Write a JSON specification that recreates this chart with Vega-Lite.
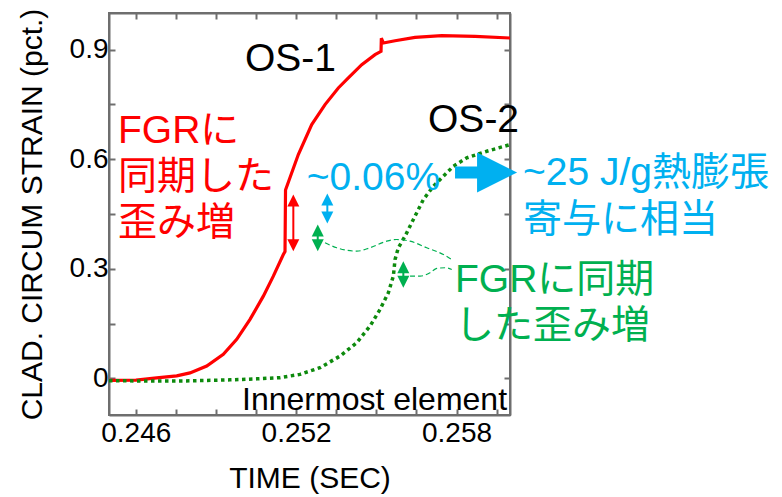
{
  "$schema": "https://vega.github.io/schema/vega-lite/v6.json",
  "width": 401,
  "height": 402,
  "autosize": {"type": "none"},
  "padding": {"left": 109, "top": 13, "right": 272, "bottom": 82},
  "background": "white",
  "resolve": {"axis": {"x": "independent", "y": "independent"}},
  "config": {
    "view": {"stroke": "#6e6e6e", "strokeWidth": 2},
    "font": "Liberation Sans",
    "axis": {
      "labelFont": "Liberation Sans",
      "titleFont": "Liberation Sans",
      "labelFontSize": 28,
      "titleFontSize": 30,
      "labelColor": "#000000",
      "titleColor": "#000000",
      "titleFontWeight": "normal",
      "domainColor": "#6e6e6e",
      "domainWidth": 2,
      "tickColor": "#6e6e6e",
      "tickWidth": 2,
      "tickSize": -6,
      "grid": false,
      "labelOverlap": false,
      "labelFlush": false
    }
  },
  "datasets": {
    "os1": [
      {"t": 0.24500, "s": -0.005},
      {"t": 0.24601, "s": -0.0046},
      {"t": 0.246785, "s": 0.0016},
      {"t": 0.247533, "s": 0.0071},
      {"t": 0.248030, "s": 0.0153},
      {"t": 0.248655, "s": 0.0339},
      {"t": 0.249276, "s": 0.0659},
      {"t": 0.249777, "s": 0.1069},
      {"t": 0.250275, "s": 0.1616},
      {"t": 0.250773, "s": 0.2252},
      {"t": 0.251147, "s": 0.2799},
      {"t": 0.251521, "s": 0.3392},
      {"t": 0.251584, "s": 0.3474},
      {"t": 0.251603, "s": 0.5156},
      {"t": 0.252082, "s": 0.6126},
      {"t": 0.252583, "s": 0.6946},
      {"t": 0.253081, "s": 0.7493},
      {"t": 0.253578, "s": 0.7949},
      {"t": 0.253953, "s": 0.8223},
      {"t": 0.254454, "s": 0.8586},
      {"t": 0.254951, "s": 0.8860},
      {"t": 0.255176, "s": 0.8950},
      {"t": 0.255187, "s": 0.9311},
      {"t": 0.255262, "s": 0.9180},
      {"t": 0.255700, "s": 0.9242},
      {"t": 0.256448, "s": 0.9333},
      {"t": 0.257447, "s": 0.9379},
      {"t": 0.258693, "s": 0.9360},
      {"t": 0.260002, "s": 0.9316}
    ],
    "os2": [
      {"t": 0.24500, "s": -0.006},
      {"t": 0.246534, "s": -0.0071},
      {"t": 0.248030, "s": -0.0066},
      {"t": 0.249527, "s": -0.0038},
      {"t": 0.250526, "s": -0.0011},
      {"t": 0.251397, "s": 0.0022},
      {"t": 0.252146, "s": 0.0112},
      {"t": 0.252894, "s": 0.0295},
      {"t": 0.253642, "s": 0.0612},
      {"t": 0.254267, "s": 0.0979},
      {"t": 0.254764, "s": 0.1432},
      {"t": 0.255138, "s": 0.1889},
      {"t": 0.255449, "s": 0.2345},
      {"t": 0.255636, "s": 0.2799},
      {"t": 0.255700, "s": 0.3256},
      {"t": 0.255823, "s": 0.3576},
      {"t": 0.256074, "s": 0.3893},
      {"t": 0.256384, "s": 0.4349},
      {"t": 0.256759, "s": 0.4896},
      {"t": 0.257133, "s": 0.5259},
      {"t": 0.257507, "s": 0.5533},
      {"t": 0.257881, "s": 0.5806},
      {"t": 0.258382, "s": 0.6036},
      {"t": 0.259130, "s": 0.6216},
      {"t": 0.260002, "s": 0.6399}
    ],
    "guides": [
      {"id": "a", "t": 0.253081, "s": 0.3712},
      {"id": "a", "t": 0.253518, "s": 0.3576},
      {"id": "a", "t": 0.254267, "s": 0.3483},
      {"id": "a", "t": 0.254764, "s": 0.3576},
      {"id": "a", "t": 0.255389, "s": 0.3756},
      {"id": "a", "t": 0.255763, "s": 0.3802},
      {"id": "a", "t": 0.256261, "s": 0.3756},
      {"id": "a", "t": 0.256886, "s": 0.3576},
      {"id": "a", "t": 0.257507, "s": 0.3392},
      {"id": "a", "t": 0.257821, "s": 0.3256},
      {"id": "b", "t": 0.256261, "s": 0.2799},
      {"id": "b", "t": 0.256635, "s": 0.2799},
      {"id": "b", "t": 0.257009, "s": 0.2892},
      {"id": "b", "t": 0.257260, "s": 0.3010},
      {"id": "b", "t": 0.257570, "s": 0.3029},
      {"id": "b", "t": 0.257821, "s": 0.2982}
    ],
    "arrows": [
      {"kind": "OS-1 FGR", "t": 0.251895, "top": 0.4869, "bottom": 0.3647},
      {"kind": "thermal", "t": 0.253167, "top": 0.4896, "bottom": 0.4404},
      {"kind": "OS-2 FGR", "t": 0.252808, "top": 0.4048, "bottom": 0.3647},
      {"kind": "OS-2 FGR", "t": 0.256010, "top": 0.3045, "bottom": 0.2646}
    ],
    "heads": [
      {"kind": "OS-1 FGR", "t": 0.251895, "s": 0.4869, "dir": "up"},
      {"kind": "OS-1 FGR", "t": 0.251895, "s": 0.3647, "dir": "down"},
      {"kind": "thermal", "t": 0.253167, "s": 0.4896, "dir": "up"},
      {"kind": "thermal", "t": 0.253167, "s": 0.4404, "dir": "down"},
      {"kind": "OS-2 FGR", "t": 0.252808, "s": 0.4048, "dir": "up"},
      {"kind": "OS-2 FGR", "t": 0.252808, "s": 0.3647, "dir": "down"},
      {"kind": "OS-2 FGR", "t": 0.256010, "s": 0.3045, "dir": "up"},
      {"kind": "OS-2 FGR", "t": 0.256010, "s": 0.2646, "dir": "down"}
    ],
    "bigArrow": [
      {"t": 0.257944, "t2": 0.259254, "s": 0.5634}
    ],
    "bigHead": [
      {"t": 0.259516, "s": 0.5634}
    ],
    "labels": [
      {"kind": "OS", "t": 0.250088, "s": 0.8403, "text": "OS-1"},
      {"kind": "OS", "t": 0.256934, "s": 0.6755, "text": "OS-2"},
      {"kind": "OS-1 FGR", "t": 0.245337, "s": 0.6446, "text": "FGRに"},
      {"kind": "OS-1 FGR", "t": 0.245337, "s": 0.5197, "text": "同期した"},
      {"kind": "OS-1 FGR", "t": 0.245337, "s": 0.3912, "text": "歪み増"},
      {"kind": "thermal", "t": 0.252396, "s": 0.5169, "text": "~0.06%"},
      {"kind": "thermal", "t": 0.260488, "s": 0.5306, "text": "~25 J/g熱膨張"},
      {"kind": "thermal", "t": 0.260488, "s": 0.4021, "text": "寄与に相当"},
      {"kind": "OS-2 FGR", "t": 0.257944, "s": 0.2354, "text": "FGRに同期"},
      {"kind": "OS-2 FGR", "t": 0.257944, "s": 0.1096, "text": "した歪み増"}
    ],
    "note": [
      {"t": 0.25989, "s": -0.0864, "text": "Innermost element"}
    ]
  },
  "layer": [
    {
      "data": {"name": "os1"},
      "mark": {"type": "line", "color": "#ff0000", "strokeWidth": 3.2, "clip": true},
      "encoding": {
        "x": {
          "field": "t", "type": "quantitative",
          "scale": {"domain": [0.245, 0.26], "nice": false, "zero": false},
          "axis": {
            "orient": "bottom",
            "title": "TIME (SEC)",
            "values": [0.246, 0.2475, 0.249, 0.2505, 0.252, 0.2535, 0.255, 0.2565, 0.258, 0.2595],
            "labelExpr": "(round(datum.value*2000) % 12 == 0) ? format(datum.value, '.3f') : ''",
            "labelFontSize": 28,
            "labelPadding": 10,
            "titleFontSize": 30,
            "titlePadding": 16
          }
        },
        "y": {
          "field": "s", "type": "quantitative",
          "scale": {"domain": [-0.1, 1.0], "nice": false, "zero": false},
          "axis": {
            "orient": "left",
            "title": "CLAD. CIRCUM STRAIN (pct.)",
            "values": [0, 0.15, 0.3, 0.45, 0.6, 0.75, 0.9],
            "labelExpr": "abs(datum.value/0.3 - round(datum.value/0.3)) < 0.01 ? format(datum.value, '.1~f') : ''",
            "labelFontSize": 28,
            "labelPadding": 7,
            "titleFontSize": 30,
            "titlePadding": 22
          }
        }
      }
    },
    {
      "data": {"name": "os2"},
      "mark": {"type": "line", "color": "#0d8a0d", "strokeWidth": 3.5, "strokeDash": [3.5, 3.5], "clip": true},
      "encoding": {
        "x": {
          "field": "t", "type": "quantitative",
          "axis": {
            "orient": "top",
            "title": null,
            "labels": false,
            "values": [0.246, 0.2475, 0.249, 0.2505, 0.252, 0.2535, 0.255, 0.2565, 0.258, 0.2595]
          }
        },
        "y": {
          "field": "s", "type": "quantitative",
          "axis": {
            "orient": "right",
            "title": null,
            "labels": false,
            "values": [0, 0.15, 0.3, 0.45, 0.6, 0.75, 0.9]
          }
        }
      }
    },
    {
      "data": {"name": "guides"},
      "mark": {"type": "line", "color": "#00b050", "strokeWidth": 1.2, "strokeDash": [5, 3], "interpolate": "monotone"},
      "encoding": {
        "x": {"field": "t", "type": "quantitative", "axis": null},
        "y": {"field": "s", "type": "quantitative", "axis": null},
        "detail": {"field": "id"}
      }
    },
    {
      "data": {"name": "arrows"},
      "mark": {"type": "rule", "strokeWidth": 2},
      "encoding": {
        "x": {"field": "t", "type": "quantitative", "axis": null},
        "y": {"field": "top", "type": "quantitative", "axis": null},
        "y2": {"field": "bottom"},
        "color": {
          "field": "kind", "type": "nominal", "legend": null,
          "scale": {"domain": ["OS", "OS-1 FGR", "thermal", "OS-2 FGR"], "range": ["#000000", "#ff0000", "#00b0f0", "#00b050"]}
        }
      }
    },
    {
      "data": {"name": "heads"},
      "mark": {"type": "point", "filled": true, "opacity": 1, "strokeWidth": 0, "size": 144},
      "encoding": {
        "x": {"field": "t", "type": "quantitative", "axis": null},
        "y": {"field": "s", "type": "quantitative", "axis": null},
        "shape": {
          "field": "dir", "type": "nominal", "legend": null,
          "scale": {"domain": ["up", "down"], "range": ["M0,-1L1,1L-1,1Z", "M0,1L1,-1L-1,-1Z"]}
        },
        "color": {"field": "kind", "type": "nominal", "legend": null}
      }
    },
    {
      "data": {"name": "bigArrow"},
      "mark": {"type": "rule", "strokeWidth": 12, "color": "#00b0f0"},
      "encoding": {
        "x": {"field": "t", "type": "quantitative", "axis": null},
        "x2": {"field": "t2"},
        "y": {"field": "s", "type": "quantitative", "axis": null}
      }
    },
    {
      "data": {"name": "bigHead"},
      "mark": {"type": "point", "filled": true, "opacity": 1, "strokeWidth": 0, "size": 1600, "shape": "M-1,-1L1,0L-1,1Z", "color": "#00b0f0"},
      "encoding": {
        "x": {"field": "t", "type": "quantitative", "axis": null},
        "y": {"field": "s", "type": "quantitative", "axis": null}
      }
    },
    {
      "data": {"name": "labels"},
      "mark": {"type": "text", "align": "left", "baseline": "alphabetic", "fontSize": 39, "font": "Liberation Sans, Noto Sans CJK JP"},
      "encoding": {
        "x": {"field": "t", "type": "quantitative", "axis": null},
        "y": {"field": "s", "type": "quantitative", "axis": null},
        "text": {"field": "text"},
        "color": {"field": "kind", "type": "nominal", "legend": null}
      }
    },
    {
      "data": {"name": "note"},
      "mark": {"type": "text", "align": "right", "baseline": "alphabetic", "fontSize": 32, "font": "Liberation Sans", "color": "#000000"},
      "encoding": {
        "x": {"field": "t", "type": "quantitative", "axis": null},
        "y": {"field": "s", "type": "quantitative", "axis": null},
        "text": {"field": "text"}
      }
    }
  ]
}
